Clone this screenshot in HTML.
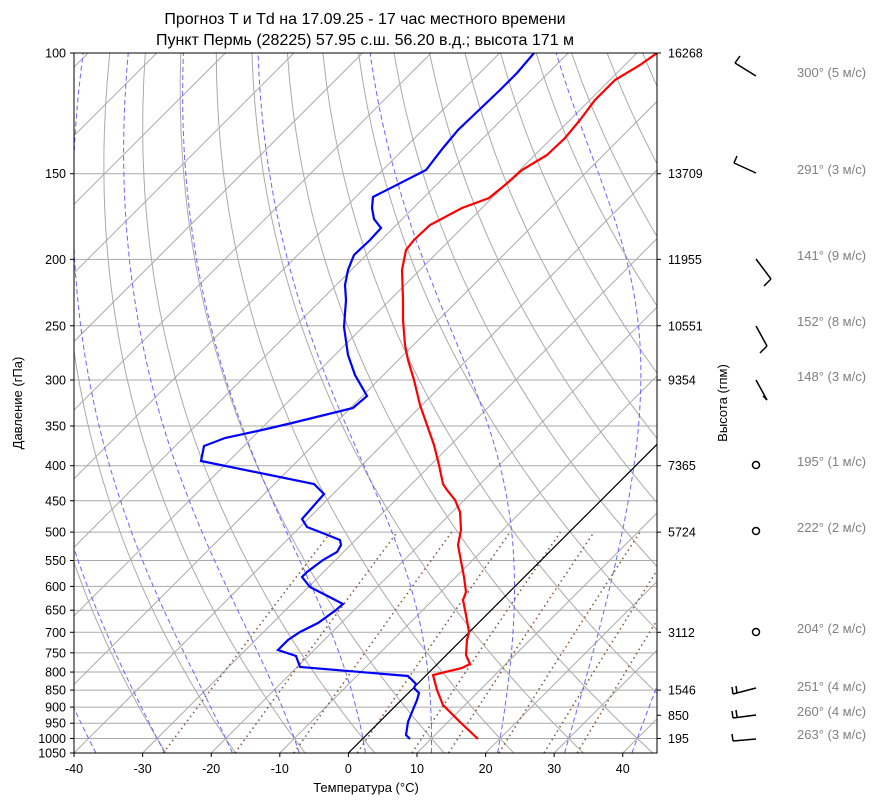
<!DOCTYPE html>
<html><head><meta charset="utf-8"><style>
body{margin:0;background:#fff;font-family:"Liberation Sans","DejaVu Sans",sans-serif;}
svg text{font-family:"Liberation Sans","DejaVu Sans",sans-serif;}
</style></head><body>
<svg id="s" width="891" height="806" xmlns="http://www.w3.org/2000/svg">
<defs><clipPath id="c"><rect x="74" y="53" width="583" height="700"/></clipPath></defs>
<rect width="891" height="806" fill="#fff"/>
<g id="grid" clip-path="url(#c)"></g>
<g id="prof" clip-path="url(#c)">
<polyline fill="none" stroke="#ff0000" stroke-width="2.2" points="478,739 460,722 443,705 437,690 433,675 462,668 470,664 466,655 467,640 469,632 466,615 463,600 466,592 464,577 458,545 461,530 460,512 455,500 447,490 443,484 439,465 434,445 427,425 420,405 414,380 408,360 405,345 403,320 403,300 402,270 406,250 414,240 430,225 462,208 489,198 505,185 522,170 547,155 565,138 580,120 595,100 615,80 640,65 657,53"/>
<polyline fill="none" stroke="#0000ff" stroke-width="2.2" points="410,739 406,735 408,722 412,712 417,700 419,693 414,688 416,684 408,676 300,667 296,656 278,650 288,640 300,632 318,623 336,610 343,604 310,587 302,577 307,572 323,560 337,552 341,545 340,540 325,534 307,527 302,519 310,510 324,494 314,484 201,461 204,446 225,438 262,430 292,423 353,408 367,396 355,375 348,355 344,327 346,300 345,285 348,270 354,255 370,240 381,228 374,219 372,208 373,197 426,170 443,148 458,130 479,110 500,90 517,73 534,53"/>
</g>
<rect x="74" y="53" width="583" height="700" fill="none" stroke="#000" stroke-width="1"/>
<g id="ax" font-size="12.5" fill="#000"></g>
<text x="365" y="24" font-size="16" text-anchor="middle">Прогноз T и Td на 17.09.25 - 17 час местного времени</text>
<text x="365" y="45" font-size="16" text-anchor="middle">Пункт Пермь (28225) 57.95 с.ш. 56.20 в.д.; высота 171 м</text>
<text x="366" y="792" font-size="13" text-anchor="middle">Температура (°C)</text>
<text transform="translate(22,403) rotate(-90)" font-size="13" text-anchor="middle">Давление (гПа)</text>
<text transform="translate(727,403) rotate(-90)" font-size="13" text-anchor="middle">Высота (гпм)</text>
<g stroke="#000" stroke-width="1.5" fill="none">
<line x1="735" y1="63" x2="756" y2="76"/><line x1="735" y1="63" x2="740" y2="56"/>
<line x1="734" y1="163" x2="756" y2="173"/><line x1="734" y1="163" x2="737" y2="156"/>
<line x1="756" y1="259" x2="771" y2="279"/><line x1="771" y1="279" x2="764" y2="286"/>
<line x1="756" y1="326" x2="767" y2="346"/><line x1="767" y1="346" x2="760" y2="353"/>
<line x1="756" y1="380" x2="767" y2="400"/><line x1="767" y1="400" x2="763" y2="396"/>
<circle cx="756" cy="465" r="3.5"/><circle cx="756" cy="531" r="3.5"/><circle cx="756" cy="632" r="3.5"/>
<line x1="733" y1="694" x2="756" y2="688"/><line x1="733" y1="694" x2="732" y2="687"/><line x1="737" y1="693" x2="736" y2="686"/>
<line x1="733" y1="718" x2="756" y2="715"/><line x1="733" y1="718" x2="732" y2="711"/><line x1="737" y1="717" x2="736" y2="710"/>
<line x1="733" y1="741" x2="756" y2="739"/><line x1="733" y1="741" x2="732" y2="734"/>
</g>
<g font-size="13" fill="#808080">
<text x="797" y="77">300° (5 м/с)</text><text x="797" y="174">291° (3 м/с)</text>
<text x="797" y="260">141° (9 м/с)</text><text x="797" y="326">152° (8 м/с)</text>
<text x="797" y="381">148° (3 м/с)</text><text x="797" y="466">195° (1 м/с)</text>
<text x="797" y="532">222° (2 м/с)</text><text x="797" y="633">204° (2 м/с)</text>
<text x="797" y="691">251° (4 м/с)</text><text x="797" y="716">260° (4 м/с)</text>
<text x="797" y="739">263° (3 м/с)</text>
</g>
</svg>
<script>
var NS="http://www.w3.org/2000/svg";
function Y(p){return 53+Math.log(p/100)/Math.log(10.5)*700;}
function X(T,p){return 348.4+T*6.859+(753-Y(p));}
var g=document.getElementById('grid'),ax=document.getElementById('ax');
function el(par,tag,a,txt){var e=document.createElementNS(NS,tag);for(var k in a)e.setAttribute(k,a[k]);if(txt!==undefined)e.textContent=txt;par.appendChild(e);return e;}
function poly(pts,st){el(g,'polyline',Object.assign({points:pts.map(function(q){return q[0].toFixed(1)+','+q[1].toFixed(1)}).join(' '),fill:'none'},st));}
for(var p=100;p<=1050;p+=50){var y=Y(p);el(g,'line',{x1:74,x2:657,y1:y,y2:y,stroke:'#aaa','stroke-width':1});
 el(ax,'text',{x:66,y:y+4.5,'text-anchor':'end'},p);el(ax,'line',{x1:70,x2:74,y1:y,y2:y,stroke:'#000'});}
for(var T=-150;T<=50;T+=10){poly([[X(T,1050),Y(1050)],[X(T,100),Y(100)]],{stroke:'#aaa','stroke-width':1});}
var ps=[];for(var p=100;p<=1050;p+=10)ps.push(p);
for(var t0=-30;t0<=200;t0+=10){var th=t0+273.15;poly(ps.map(function(p){return [X(th*Math.pow(p/1000,0.2857)-273.15,p),Y(p)]}),{stroke:'#aaa','stroke-width':1});}
function rs(T,p){var e=6.112*Math.exp(17.67*(T-273.15)/(T-29.65));return 0.622*e/(p-e);}
function dTdp(T,p){var r=rs(T,p);return (287*T+2.5e6*r)/(p*(1005+2.5e6*2.5e6*r*0.622/(287*T*T)));}
for(var t0=-40;t0<=40;t0+=10){var pts=[];var T=t0+273.15,p=1000;
 var T2=T;for(var q=1000;q<1050;q+=1){T2+=dTdp(T2,q)*1;} pts.push([X(T2-273.15,1050),Y(1050)]);
 for(p=1000;p>=100;p-=2){pts.push([X(T-273.15,p),Y(p)]);T-=dTdp(T,p)*2;}
 poly(pts,{stroke:'#6666ff','stroke-width':1,'stroke-dasharray':'5,3'});}
[0.0004,0.001,0.002,0.004,0.007,0.01,0.016,0.024,0.032].forEach(function(w){var pts=[];
 for(var p=1050;p>=500;p-=10){var e=w*p/(0.622+w),l=Math.log(e/6.112);var Td=243.5*l/(17.67-l);pts.push([X(Td,p),Y(p)]);}
 poly(pts,{stroke:'#8b5a3c','stroke-width':1.6,'stroke-dasharray':'1.5,3.5'});});
poly([[X(0,1050),Y(1050)],[X(0,100),Y(100)]],{stroke:'#000','stroke-width':1.2});
for(var T=-40;T<=40;T+=10){var x=348.4+T*6.859;el(ax,'text',{x:x,y:773,'text-anchor':'middle'},T);el(ax,'line',{x1:x,x2:x,y1:753,y2:757,stroke:'#000'});}
[[100,16268],[150,13709],[200,11955],[250,10551],[300,9354],[400,7365],[500,5724],[700,3112],[850,1546],[925,850],[1000,195]].forEach(function(a){var y=Y(a[0]);el(ax,'line',{x1:657,x2:661,y1:y,y2:y,stroke:'#000'});el(ax,'text',{x:668,y:y+4.5},a[1]);});
</script>
</body></html>
